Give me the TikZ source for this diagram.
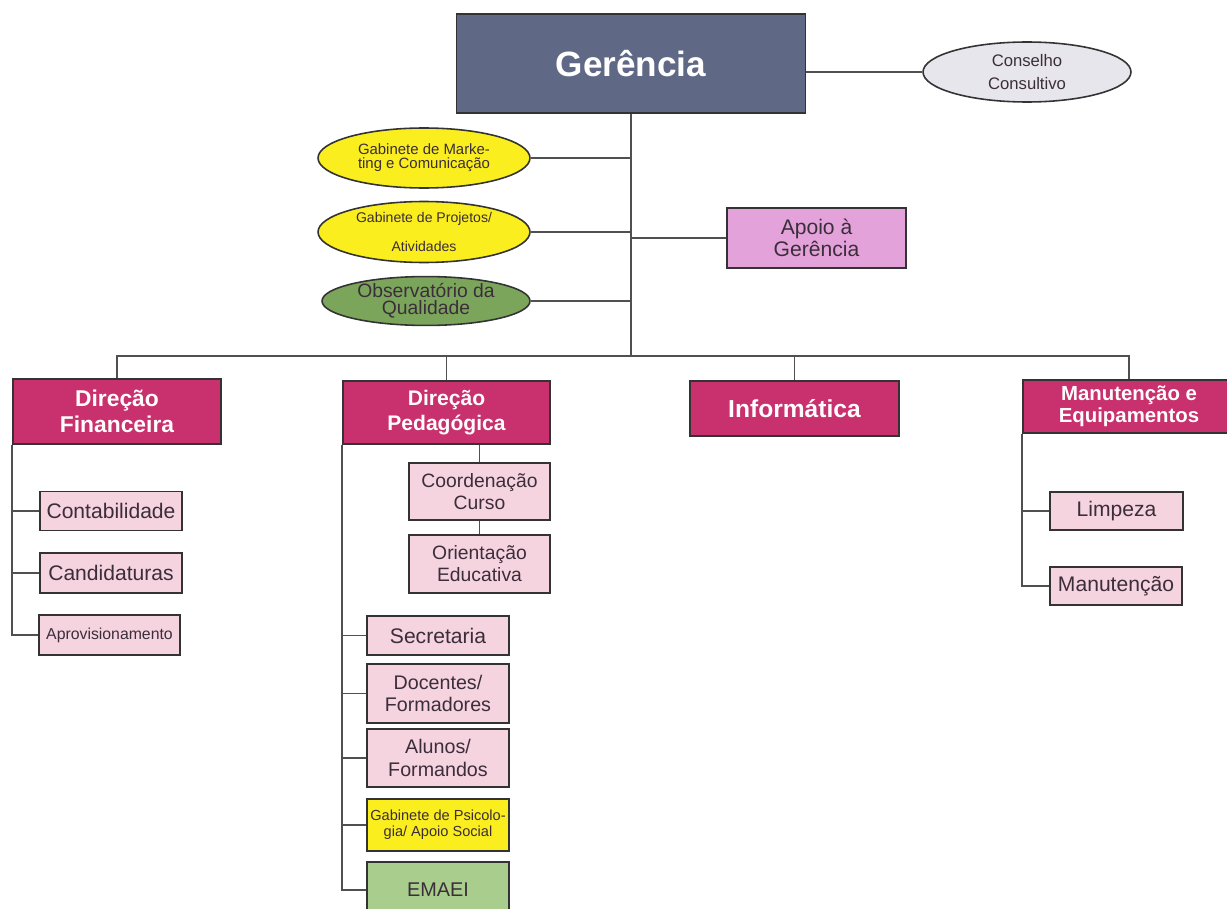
\documentclass[tikz,border=0pt]{standalone}
\usepackage{fontspec}
\setmainfont{Liberation Sans}
\usetikzlibrary{positioning,shapes.geometric}
\definecolor{gerblue}{HTML}{5F6885}
\definecolor{dirmag}{HTML}{C8306E}
\definecolor{lightpink}{HTML}{F5D3DF}
\definecolor{apoiopink}{HTML}{E3A2DA}
\definecolor{myyellow}{HTML}{FAEE1E}
\definecolor{obsgreen}{HTML}{7CA55C}
\definecolor{lightgreen}{HTML}{A8CD8C}
\definecolor{conselhogray}{HTML}{E7E6EC}
\definecolor{txtdark}{HTML}{3B2E3A}
\definecolor{linegray}{HTML}{505050}
\newcommand{\fs}[2]{\fontsize{#1}{#2}\selectfont}
\tikzset{
  box/.style={draw=black!80, line width=0.9pt, align=center, inner sep=1pt, text=txtdark},
  gerbox/.style={box, fill=gerblue, text=white, font=\bfseries\fs{20}{24}},
  dirbox/.style={box, fill=dirmag, text=white!95!pink},
  subbox/.style={box, fill=lightpink, minimum width=2.84cm},
  apoiobox/.style={box, fill=apoiopink},
  oval/.style={ellipse, draw=black!80, line width=0.9pt, align=center, inner sep=0pt, text=txtdark},
  line/.style={draw=linegray, line width=1.1pt},
}
\begin{document}
\begin{tikzpicture}[x=0.02cm, y=-0.02cm]
  \fill[white] (0,0) rectangle (1227,909);
  \useasboundingbox (0,0) rectangle (1227,909);
  % top
  \node[gerbox, minimum width=6.98cm, minimum height=1.98cm] (ger) at (631,63.5) {Gerência};
  \node[oval, fill=conselhogray, minimum width=4.16cm, minimum height=1.2cm, font=\fs{9.5}{13}] (cons) at (1027,72) {Conselho\\Consultivo};
  \node[oval, fill=myyellow, minimum width=4.24cm, minimum height=1.2cm, font=\fs{8.5}{8}] (mkt) at (424,158) {Gabinete de Marke-\\ting e Comunicação};
  \node[oval, fill=myyellow, minimum width=4.24cm, minimum height=1.22cm, font=\fs{8}{17}] (proj) at (424,232) {Gabinete de Projetos/\\Atividades};
  \node[oval, fill=obsgreen, minimum width=4.16cm, minimum height=0.96cm, font=\fs{11}{9.5}] (obs) at (426,301) {Observatório da\\Qualidade};
  \node[apoiobox, minimum width=3.58cm, minimum height=1.2cm, font=\fs{12}{10}] (apoio) at (816.5,238) {Apoio à\\Gerência};
  \coordinate (bus) at (631,356);
  % direcoes
  \node[dirbox, minimum width=4.16cm, minimum height=1.3cm, font=\bfseries\fs{13}{15}] (df) at (117,411.5) {Direção\\Financeira};
  \node[dirbox, minimum width=4.14cm, minimum height=1.26cm, font=\bfseries\fs{12}{14}] (dp) at (446.5,412.5) {Direção\\Pedagógica};
  \node[dirbox, minimum width=4.18cm, minimum height=1.1cm, font=\bfseries\fs{14}{16}] (inf) at (794.5,408.5) {Informática};
  \node[dirbox, minimum width=4.24cm, minimum height=1.06cm, font=\bfseries\fs{11.6}{12.5}] (me) at (1129,406.5) {Manutenção e\\Equipamentos};
  % financeira
  \node[subbox, minimum height=0.78cm, font=\fs{12}{14}] (cont) at (111,511) {Contabilidade};
  \node[subbox, minimum height=0.8cm, font=\fs{12}{14}] (cand) at (111,573) {Candidaturas};
  \node[subbox, minimum width=2.82cm, minimum height=0.8cm, font=\fs{9}{11}] (aprov) at (109.5,635) {Aprovisionamento};
  % pedagogica
  \node[subbox, minimum width=2.82cm, minimum height=1.14cm, font=\fs{11}{12.5}] (coord) at (479.5,491.5) {Coordenação\\Curso};
  \node[subbox, minimum width=2.82cm, minimum height=1.16cm, font=\fs{11}{12.5}] (orient) at (479.5,564) {Orientação\\Educativa};
  \node[subbox, minimum height=0.78cm, font=\fs{12}{14}] (secr) at (438,635.5) {Secretaria};
  \node[subbox, minimum height=1.18cm, font=\fs{11.2}{13}] (doc) at (438,693.5) {Docentes/\\Formadores};
  \node[subbox, minimum height=1.16cm, font=\fs{11.2}{13}] (alun) at (438,758) {Alunos/\\Formandos};
  \node[subbox, fill=myyellow, minimum height=1.04cm, font=\fs{8.3}{9}] (psic) at (438,825) {Gabinete de Psicolo-\\gia/ Apoio Social};
  \node[subbox, fill=lightgreen, minimum height=1.12cm, font=\fs{11.3}{13}] (emaei) at (438,890) {EMAEI};
  % manutencao
  \node[subbox, minimum width=2.66cm, minimum height=0.76cm, font=\fs{12}{14}] (limp) at (1116.5,511) {Limpeza};
  \node[subbox, minimum width=2.64cm, minimum height=0.76cm, font=\fs{12}{14}] (manut) at (1116,586) {Manutenção};
  % ligacoes
  \draw[line] (ger.south) -- (bus);
  \draw[line] (cons.west) -- (cons.west -| ger.east);
  \draw[line] (mkt.east) -- (mkt.east -| bus); \draw[line] (proj.east) -- (proj.east -| bus); \draw[line] (obs.east) -- (obs.east -| bus);
  \draw[line] (apoio.west) -- (apoio.west -| bus);
  \draw[line] (df.north) |- (me.north |- bus) -- (me.north);
  \draw[line] (dp.north) -- (dp.north |- bus); \draw[line] (inf.north) -- (inf.north |- bus);
  \draw[line] (df.south west) |- (aprov); \draw[line] (cont.west) -- (cont.west -| df.south west); \draw[line] (cand.west) -- (cand.west -| df.south west);
  \draw[line] (dp.south west) |- (emaei);
  \foreach \n in {secr,doc,alun,psic} \draw[line] (\n.west) -- (\n.west -| dp.south west);
  \draw[line] (coord.north) -- (coord.north |- dp.south); \draw[line] (coord) -- (orient);
  \draw[line] (me.south west) |- (manut); \draw[line] (limp.west) -- (limp.west -| me.south west);
\end{tikzpicture}
\end{document}
